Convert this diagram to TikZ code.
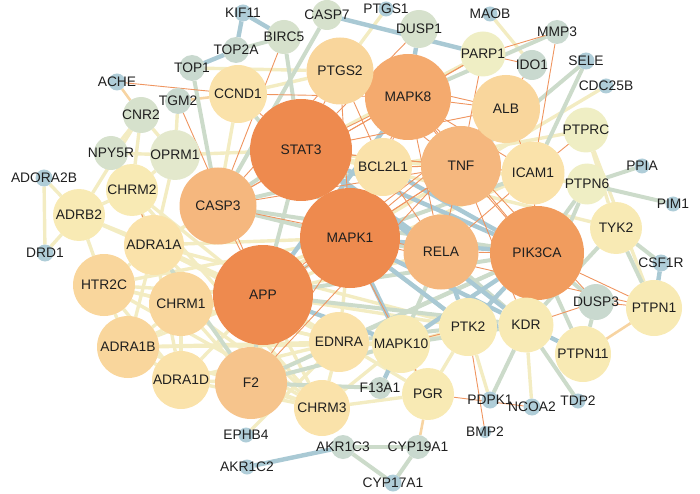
\documentclass[tikz,border=0pt]{standalone}
\usepackage{fontspec}
\setmainfont{Liberation Sans}
\usetikzlibrary{backgrounds}
\definecolor{c1}{HTML}{EE8A4E}
\definecolor{c2}{HTML}{F19C5E}
\definecolor{c3}{HTML}{F4AA6E}
\definecolor{c4}{HTML}{F5B77E}
\definecolor{c5}{HTML}{F6C48C}
\definecolor{c6}{HTML}{F9D69C}
\definecolor{c7}{HTML}{FAE2AA}
\definecolor{c8}{HTML}{F8EAB4}
\definecolor{c9}{HTML}{EFEEC4}
\definecolor{c10}{HTML}{E3E8CC}
\definecolor{c11}{HTML}{D6E1CC}
\definecolor{c12}{HTML}{C9D9CF}
\definecolor{c13}{HTML}{AFCDD8}
\definecolor{eyc}{HTML}{F3ECC2}
\definecolor{ey2c}{HTML}{F7D4A2}
\definecolor{egc}{HTML}{CCDBCA}
\definecolor{ebc}{HTML}{A9C9D4}
\definecolor{eoc}{HTML}{EF9560}
\newcommand{\gnode}[5]{\node[gn, fill=#5, minimum size=#4pt, label={[lbl]center:#1}] (#1) at (#2,#3) {};}
\begin{document}
\begin{tikzpicture}[x=1pt,y=-1pt,
  gn/.style={circle,draw=none,inner sep=0pt,outer sep=0pt},
  lbl/.style={font=\fontsize{13.8}{14}\selectfont,text=black!88,inner sep=0pt},
  ey/.style={draw=eyc,line width=3.4pt},
  ey2/.style={draw=ey2c,line width=2.6pt},
  eg/.style={draw=egc,line width=4pt},
  eb/.style={draw=ebc,line width=4.4pt},
  eo/.style={draw=eoc,line width=0.9pt}]
\useasboundingbox (0,0) rectangle (700,494);
% large and medium nodes
\gnode{STAT3}{301}{150}{102}{c1}
\gnode{MAPK1}{350}{238}{100}{c1}
\gnode{APP}{263}{295}{100}{c1}
\gnode{PIK3CA}{537}{253}{94}{c2}
\gnode{MAPK8}{408}{97}{86}{c3}
\gnode{TNF}{461}{166}{80}{c4}
\gnode{CASP3}{218}{206}{77}{c4}
\gnode{RELA}{441}{252}{75}{c4}
\gnode{F2}{251}{383}{72}{c5}
\gnode{PTGS2}{340}{71}{67}{c6}
\gnode{ALB}{506}{109}{68}{c6}
\gnode{CHRM1}{181}{304}{64}{c6}
\gnode{HTR2C}{104}{285}{62}{c6}
\gnode{ADRA1B}{128}{347}{62}{c6}
\gnode{ICAM1}{533}{173}{63}{c7}
\gnode{CCND1}{238}{94}{58}{c7}
\gnode{BCL2L1}{383}{167}{58}{c7}
\gnode{EDNRA}{339}{342}{60}{c7}
\gnode{ADRA1A}{154}{245}{60}{c7}
\gnode{ADRA1D}{181}{380}{58}{c7}
\gnode{CHRM3}{322}{408}{56}{c7}
\gnode{MAPK10}{401}{344}{58}{c8}
\gnode{PTK2}{468}{327}{58}{c8}
\gnode{KDR}{526}{325}{55}{c8}
\gnode{PTPN11}{583}{354}{56}{c8}
\gnode{PTPN1}{654}{308}{56}{c8}
\gnode{PGR}{428}{394}{52}{c8}
\gnode{TYK2}{616}{228}{52}{c8}
\gnode{ADRB2}{79}{215}{52}{c8}
\gnode{CHRM2}{132}{190}{52}{c8}
\gnode{OPRM1}{175}{155}{50}{c10}
\gnode{PARP1}{483}{54}{45}{c9}
\gnode{PTPRC}{586}{130}{45}{c9}
\gnode{PTPN6}{587}{184}{41}{c9}
% small nodes
\gnode{DUSP1}{419}{29}{38}{c11}
\gnode{BIRC5}{284}{37}{34}{c11}
\gnode{CNR2}{141}{115}{36}{c11}
\gnode{NPY5R}{111}{153}{34}{c11}
\gnode{CASP7}{327}{15}{30}{c11}
\gnode{DUSP3}{596}{302}{36}{c12}
\gnode{IDO1}{532}{65}{30}{c12}
\gnode{TGM2}{178}{101}{26}{c12}
\gnode{TOP1}{192}{68}{26}{c12}
\gnode{TOP2A}{236}{50}{26}{c12}
\gnode{MMP3}{557}{32}{24}{c12}
\gnode{F13A1}{380}{388}{22}{c12}
\gnode{CYP19A1}{418}{447}{24}{c12}
\gnode{AKR1C3}{343}{447}{24}{c12}
% dots
\gnode{KIF11}{243}{13}{17}{c13}
\gnode{ACHE}{117}{82}{17}{c13}
\gnode{ADORA2B}{44}{178}{17}{c13}
\gnode{DRD1}{45}{253}{17}{c13}
\gnode{PTGS1}{386}{9}{15}{c13}
\gnode{MAOB}{490}{14}{15}{c13}
\gnode{SELE}{586}{61}{17}{c13}
\gnode{CDC25B}{606}{86}{15}{c13}
\gnode{PPIA}{642}{166}{15}{c13}
\gnode{PIM1}{673}{204}{15}{c13}
\gnode{CSF1R}{661}{263}{17}{c13}
\gnode{PDPK1}{490}{400}{17}{c13}
\gnode{NCOA2}{532}{407}{17}{c13}
\gnode{TDP2}{578}{401}{15}{c13}
\gnode{BMP2}{485}{432}{12}{c13}
\gnode{EPHB4}{246}{435}{15}{c13}
\gnode{AKR1C2}{247}{467}{15}{c13}
\gnode{CYP17A1}{393}{483}{17}{c13}
\begin{scope}[on background layer]
\foreach \a/\b in {TOP1/PTGS2, PTGS1/PTGS2, MAOB/IDO1, PARP1/STAT3, CDC25B/MAPK1, PTPRC/TYK2, PTPRC/PTPN1, PTPRC/BCL2L1, PTPN6/STAT3, TYK2/STAT3, KDR/NCOA2, PTK2/PDPK1, PTK2/PGR, PTK2/APP, PGR/MAPK10, EPHB4/EDNRA, ADORA2B/DRD1, ADORA2B/ADRB2, DRD1/ADRB2, ADRB2/CHRM2, ADRB2/HTR2C, ADRB2/APP, ADRB2/ADRA1A, CNR2/NPY5R, CNR2/OPRM1, CNR2/CHRM2, CNR2/ADRB2, TGM2/OPRM1, NPY5R/OPRM1, OPRM1/STAT3, OPRM1/CHRM2, OPRM1/ADRA1A, CHRM2/CHRM1, CHRM2/CHRM3, CHRM2/APP, CCND1/PTGS2, CCND1/CASP3, STAT3/BCL2L1, ICAM1/APP, CASP3/ADRA1A, MAPK1/EDNRA, MAPK1/CHRM1, MAPK1/ADRA1B, APP/CHRM1, APP/HTR2C, APP/ADRA1A, APP/ADRA1B, APP/ADRA1D, APP/EDNRA, APP/CHRM3, APP/RELA, APP/PGR, CHRM1/ADRA1A, CHRM1/HTR2C, CHRM1/ADRA1B, CHRM1/ADRA1D, CHRM1/CHRM3, CHRM1/EDNRA, CHRM1/F2, HTR2C/ADRA1A, HTR2C/ADRA1B, HTR2C/ADRA1D, HTR2C/CHRM3, HTR2C/EDNRA, ADRA1B/ADRA1D, ADRA1B/ADRA1A, ADRA1B/EDNRA, ADRA1B/CHRM3, ADRA1B/MAPK10, ADRA1D/ADRA1A, ADRA1D/F2, ADRA1D/EDNRA, ADRA1D/CHRM3, ADRA1A/EDNRA, ADRA1A/CHRM3, ADRA1A/MAPK1, F2/EDNRA, F2/CHRM3, F2/PTK2, EDNRA/MAPK10, EDNRA/CHRM3, CHRM3/MAPK10, CHRM3/PGR, HTR2C/MAPK1, ADRA1A/PTK2}
  \draw[ey] (\a) -- (\b);
\foreach \a/\b in {ACHE/CNR2, TGM2/CCND1, PTPN1/PTPN11, PGR/CYP19A1}
  \draw[ey2] (\a) -- (\b);
\foreach \a/\b in {TOP2A/BIRC5, TOP1/CASP3, BIRC5/STAT3, CASP7/CASP3, MMP3/MAPK8, SELE/TNF, SELE/ICAM1, PPIA/PTPN6, PIM1/PTPN6, PTPN6/KDR, PTPN6/PIK3CA, TYK2/CSF1R, TYK2/PTPN1, TYK2/KDR, DUSP3/PTPN11, DUSP3/PIK3CA, KDR/PDPK1, KDR/TDP2, KDR/RELA, PTPN11/PIK3CA, PTK2/MAPK1, CYP19A1/AKR1C3, CYP19A1/CYP17A1, AKR1C3/CYP17A1, F13A1/F2, STAT3/CASP3, STAT3/APP, ICAM1/MAPK1, BCL2L1/CASP3, CASP3/MAPK1, CASP3/PIK3CA, MAPK1/APP, MAPK1/RELA, APP/F2, APP/PIK3CA, APP/KDR, ADRA1A/F2, F2/MAPK10, F2/PIK3CA, EDNRA/PTK2, MAPK10/RELA, MAPK10/KDR, CCND1/MAPK1, PIK3CA/EDNRA}
  \draw[eg] (\a) -- (\b);
\foreach \a/\b in {KIF11/TOP2A, KIF11/BIRC5, TOP2A/TOP1, CASP7/PARP1, DUSP1/MAPK8, CSF1R/PTPN1, KDR/PTPN11, KDR/PIK3CA, KDR/PTK2, KDR/MAPK1, PTK2/PIK3CA, AKR1C3/AKR1C2, F13A1/MAPK10, STAT3/MAPK1, STAT3/PIK3CA, STAT3/RELA, STAT3/KDR, MAPK8/APP, BCL2L1/MAPK1, BCL2L1/PIK3CA, MAPK1/PIK3CA, MAPK1/MAPK10, MAPK1/PTK2, APP/MAPK10, RELA/PTK2, PIK3CA/MAPK10}
  \draw[eb] (\a) -- (\b);
\foreach \a/\b in {BIRC5/CASP3, MMP3/PARP1, MMP3/ICAM1, PARP1/MAPK8, PARP1/CASP3, PARP1/TNF, IDO1/TNF, IDO1/PARP1, PTPRC/ICAM1, DUSP3/PTPN1, DUSP3/KDR, DUSP3/MAPK8, PTPN1/PIK3CA, PTPN1/MAPK1, PTK2/BMP2, PTK2/MAPK10, PGR/NCOA2, PGR/STAT3, ACHE/CCND1, TGM2/APP, CHRM2/ADRA1A, CCND1/STAT3, CCND1/MAPK8, PTGS2/STAT3, PTGS2/MAPK8, PTGS2/TNF, PTGS2/MAPK1, PTGS2/CASP3, PTGS2/ALB, PTGS2/BCL2L1, STAT3/MAPK8, STAT3/TNF, STAT3/ICAM1, STAT3/ALB, MAPK8/TNF, MAPK8/MAPK1, MAPK8/ALB, MAPK8/BCL2L1, MAPK8/CASP3, MAPK8/RELA, MAPK8/ICAM1, MAPK8/PIK3CA, TNF/MAPK1, TNF/ALB, TNF/ICAM1, TNF/RELA, TNF/CASP3, TNF/APP, TNF/PIK3CA, TNF/BCL2L1, ALB/ICAM1, ALB/APP, ALB/MAPK1, ALB/F2, ICAM1/RELA, ICAM1/PIK3CA, BCL2L1/RELA, CASP3/APP, CASP3/RELA, MAPK1/F2, RELA/PIK3CA, DUSP1/STAT3, TNF/KDR}
  \draw[eo] (\a) -- (\b);
\end{scope}
\end{tikzpicture}
\end{document}
